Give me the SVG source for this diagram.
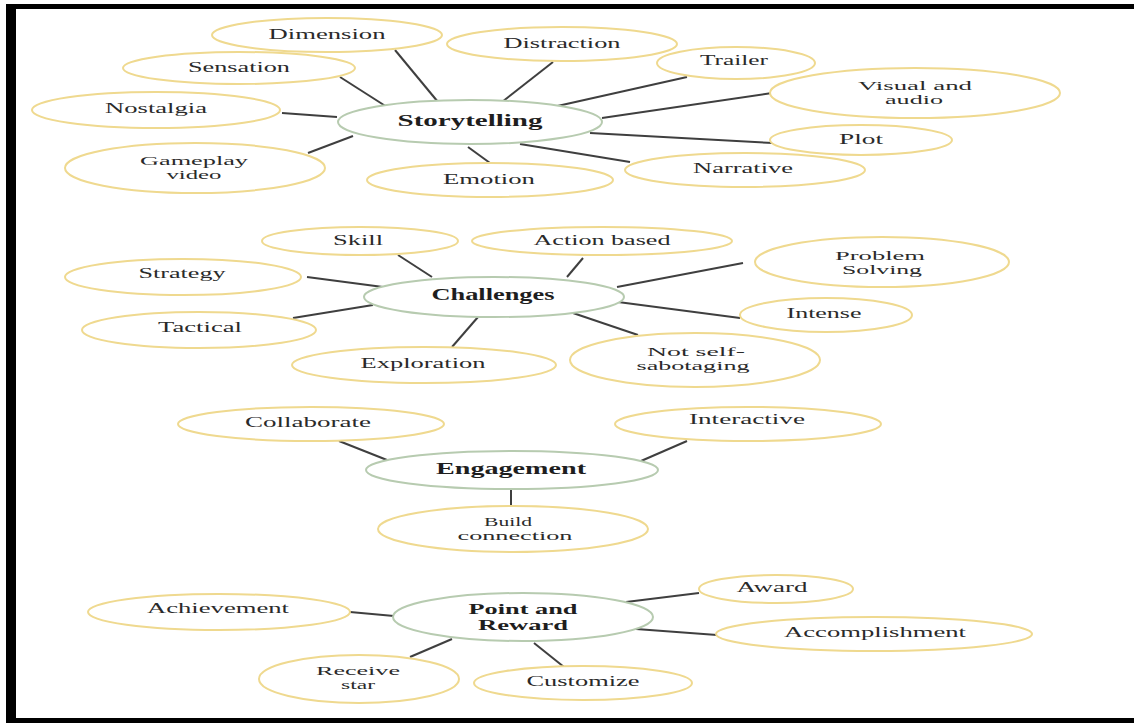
<svg xmlns="http://www.w3.org/2000/svg" width="1134" height="723" viewBox="0 0 1134 723">
<style>
.leaf{fill:#fff;stroke:#efd98f;stroke-width:2}
.hub{fill:#fff;stroke:#b7cbb0;stroke-width:2}
.lk{stroke:#3f3f3f;stroke-width:2;fill:none}
text{font-family:"Liberation Serif","Times New Roman",serif;fill:#2a2a2a;text-anchor:middle;font-size:14px}
.m{font-size:13px}
.b{font-weight:bold;font-size:16px;fill:#1e1e1e}
.bm{font-weight:bold;font-size:15px;fill:#1e1e1e}
</style>
<rect x="0" y="0" width="1134" height="723" fill="#fff"/>
<g id="frame" fill="#000">
<rect x="6" y="4" width="1128" height="5"/>
<rect x="6" y="4" width="10" height="719"/>
<rect x="6" y="718" width="1128" height="5"/>
</g>
<g id="connectors" class="lk">
<line x1="395" y1="50" x2="438" y2="102"/>
<line x1="340" y1="77" x2="387" y2="107"/>
<line x1="282" y1="113" x2="337" y2="117"/>
<line x1="308" y1="153" x2="353" y2="136"/>
<line x1="553" y1="62" x2="502" y2="102"/>
<line x1="687" y1="77" x2="553" y2="107"/>
<line x1="772" y1="93" x2="602" y2="118"/>
<line x1="590" y1="133" x2="773" y2="143"/>
<line x1="520" y1="144" x2="630" y2="162"/>
<line x1="468" y1="147" x2="490" y2="163"/>
<line x1="398" y1="255" x2="432" y2="277"/>
<line x1="583" y1="258" x2="567" y2="277"/>
<line x1="307" y1="277" x2="383" y2="287"/>
<line x1="293" y1="318" x2="373" y2="305"/>
<line x1="617" y1="287" x2="743" y2="263"/>
<line x1="618" y1="302" x2="740" y2="318"/>
<line x1="570" y1="312" x2="638" y2="335"/>
<line x1="478" y1="317" x2="452" y2="347"/>
<line x1="339" y1="441" x2="387" y2="460"/>
<line x1="687" y1="441" x2="641" y2="461"/>
<line x1="511" y1="490" x2="511" y2="506"/>
<line x1="350" y1="612" x2="394" y2="616"/>
<line x1="626" y1="602" x2="699" y2="593"/>
<line x1="636" y1="629" x2="717" y2="635"/>
<line x1="410" y1="657" x2="452" y2="639"/>
<line x1="534" y1="643" x2="564" y2="667"/>
</g>
<g id="storytelling"><ellipse class="hub" cx="470" cy="122" rx="132" ry="22"/><text class="b" x="470" y="126" textLength="145" lengthAdjust="spacingAndGlyphs">Storytelling</text></g>
<g id="dimension"><ellipse class="leaf" cx="327" cy="35" rx="115" ry="17"/><text x="327" y="39" textLength="117" lengthAdjust="spacingAndGlyphs">Dimension</text></g>
<g id="sensation"><ellipse class="leaf" cx="239" cy="68" rx="116" ry="16"/><text x="239" y="72" textLength="102" lengthAdjust="spacingAndGlyphs">Sensation</text></g>
<g id="nostalgia"><ellipse class="leaf" cx="156" cy="110" rx="124" ry="18"/><text x="156" y="113" textLength="102" lengthAdjust="spacingAndGlyphs">Nostalgia</text></g>
<g id="gameplay"><ellipse class="leaf" cx="195" cy="168" rx="130" ry="25"/><text class="m" x="194" y="165" textLength="108" lengthAdjust="spacingAndGlyphs">Gameplay</text><text class="m" x="194" y="179" textLength="55" lengthAdjust="spacingAndGlyphs">video</text></g>
<g id="emotion"><ellipse class="leaf" cx="490" cy="180" rx="123" ry="17"/><text x="489" y="184" textLength="92" lengthAdjust="spacingAndGlyphs">Emotion</text></g>
<g id="distraction"><ellipse class="leaf" cx="562" cy="44" rx="115" ry="17"/><text x="562" y="48" textLength="117" lengthAdjust="spacingAndGlyphs">Distraction</text></g>
<g id="trailer"><ellipse class="leaf" cx="736" cy="63" rx="79" ry="16"/><text x="734" y="65" textLength="68" lengthAdjust="spacingAndGlyphs">Trailer</text></g>
<g id="visual"><ellipse class="leaf" cx="915" cy="93" rx="145" ry="25"/><text class="m" x="915" y="90" textLength="114" lengthAdjust="spacingAndGlyphs">Visual and</text><text class="m" x="914" y="104" textLength="58" lengthAdjust="spacingAndGlyphs">audio</text></g>
<g id="plot"><ellipse class="leaf" cx="861" cy="140" rx="91" ry="15"/><text x="861" y="144" textLength="44" lengthAdjust="spacingAndGlyphs">Plot</text></g>
<g id="narrative"><ellipse class="leaf" cx="745" cy="170" rx="120" ry="17"/><text x="743" y="173" textLength="100" lengthAdjust="spacingAndGlyphs">Narrative</text></g>
<g id="challenges"><ellipse class="hub" cx="494" cy="297" rx="130" ry="20"/><text class="b" x="493" y="300" textLength="123" lengthAdjust="spacingAndGlyphs">Challenges</text></g>
<g id="skill"><ellipse class="leaf" cx="360" cy="241" rx="98" ry="14"/><text x="358" y="245" textLength="50" lengthAdjust="spacingAndGlyphs">Skill</text></g>
<g id="action"><ellipse class="leaf" cx="602" cy="241" rx="130" ry="14"/><text x="602" y="245" textLength="137" lengthAdjust="spacingAndGlyphs">Action based</text></g>
<g id="strategy"><ellipse class="leaf" cx="183" cy="277" rx="118" ry="18"/><text x="182" y="278" textLength="87" lengthAdjust="spacingAndGlyphs">Strategy</text></g>
<g id="tactical"><ellipse class="leaf" cx="199" cy="330" rx="117" ry="18"/><text x="200" y="332" textLength="84" lengthAdjust="spacingAndGlyphs">Tactical</text></g>
<g id="exploration"><ellipse class="leaf" cx="424" cy="365" rx="132" ry="18"/><text x="423" y="368" textLength="125" lengthAdjust="spacingAndGlyphs">Exploration</text></g>
<g id="notself"><ellipse class="leaf" cx="695" cy="360" rx="125" ry="27"/><text class="m" x="696" y="356" textLength="98" lengthAdjust="spacingAndGlyphs">Not self-</text><text class="m" x="693" y="370" textLength="113" lengthAdjust="spacingAndGlyphs">sabotaging</text></g>
<g id="problem"><ellipse class="leaf" cx="882" cy="262" rx="127" ry="25"/><text class="m" x="880" y="260" textLength="90" lengthAdjust="spacingAndGlyphs">Problem</text><text class="m" x="882" y="274" textLength="80" lengthAdjust="spacingAndGlyphs">Solving</text></g>
<g id="intense"><ellipse class="leaf" cx="826" cy="315" rx="86" ry="17"/><text x="824" y="318" textLength="75" lengthAdjust="spacingAndGlyphs">Intense</text></g>
<g id="engagement"><ellipse class="hub" cx="512" cy="470" rx="146" ry="19"/><text class="b" x="511" y="474" textLength="150" lengthAdjust="spacingAndGlyphs">Engagement</text></g>
<g id="collaborate"><ellipse class="leaf" cx="311" cy="424" rx="133" ry="17"/><text x="308" y="427" textLength="126" lengthAdjust="spacingAndGlyphs">Collaborate</text></g>
<g id="interactive"><ellipse class="leaf" cx="748" cy="424" rx="133" ry="17"/><text x="747" y="424" textLength="116" lengthAdjust="spacingAndGlyphs">Interactive</text></g>
<g id="build"><ellipse class="leaf" cx="513" cy="529" rx="135" ry="23"/><text class="m" x="508" y="526" textLength="48" lengthAdjust="spacingAndGlyphs">Build</text><text class="m" x="515" y="540" textLength="115" lengthAdjust="spacingAndGlyphs">connection</text></g>
<g id="point"><ellipse class="hub" cx="523" cy="617" rx="130" ry="24"/><text class="bm" x="523" y="614" textLength="109" lengthAdjust="spacingAndGlyphs">Point and</text><text class="bm" x="523" y="630" textLength="90" lengthAdjust="spacingAndGlyphs">Reward</text></g>
<g id="achievement"><ellipse class="leaf" cx="219" cy="612" rx="131" ry="18"/><text x="218" y="613" textLength="142" lengthAdjust="spacingAndGlyphs">Achievement</text></g>
<g id="award"><ellipse class="leaf" cx="776" cy="589" rx="77" ry="14"/><text x="772" y="592" textLength="71" lengthAdjust="spacingAndGlyphs">Award</text></g>
<g id="accomplishment"><ellipse class="leaf" cx="874" cy="634" rx="158" ry="17"/><text x="875" y="637" textLength="182" lengthAdjust="spacingAndGlyphs">Accomplishment</text></g>
<g id="receive"><ellipse class="leaf" cx="359" cy="679" rx="100" ry="24"/><text class="m" x="358" y="675" textLength="84" lengthAdjust="spacingAndGlyphs">Receive</text><text class="m" x="358" y="689" textLength="34" lengthAdjust="spacingAndGlyphs">star</text></g>
<g id="customize"><ellipse class="leaf" cx="583" cy="683" rx="109" ry="17"/><text x="583" y="686" textLength="113" lengthAdjust="spacingAndGlyphs">Customize</text></g>
</svg>
